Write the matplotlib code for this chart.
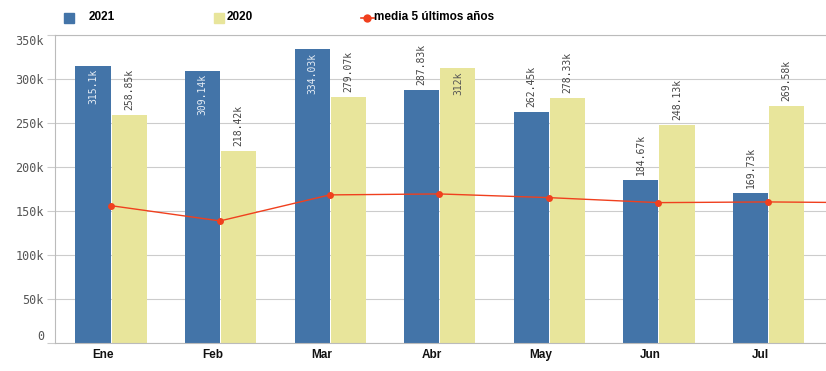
import matplotlib
matplotlib.use("Agg")
import matplotlib.pyplot as plt
from matplotlib.patches import Rectangle
from matplotlib.lines import Line2D
import numpy as np

# data
months = ["Ene", "Feb", "Mar", "Abr", "May", "Jun", "Jul"]
v2021 = [315.1, 309.14, 334.03, 287.83, 262.45, 184.67, 169.73]
v2020 = [258.85, 218.42, 279.07, 312.0, 278.33, 248.13, 269.58]
# 5-year mean, last point (Ago) falls outside the visible area
media = [155.8, 138.4, 168.0, 169.1, 164.9, 159.2, 160.0, 159.0]

c2021 = "#4374a8"
c2020 = "#e8e59b"
cline = "#f0401e"
mono = "DejaVu Sans Mono"
narrow = ["Liberation Sans Narrow", "Liberation Sans", "DejaVu Sans"]

fig = plt.figure(figsize=(8.26, 3.71), dpi=100)
ax = fig.add_axes([55 / 826, 1 - 342.5 / 371, 1 - 55 / 826, (342.5 - 35) / 371])

x = np.arange(len(months))
w = 0.32
ax.bar(x - w, np.array(v2021) * 1000, width=w, align="edge", color=c2021, linewidth=0, zorder=2)
ax.bar(x + 0.01, np.array(v2020) * 1000, width=w, align="edge", color=c2020, linewidth=0, zorder=2)

xm = np.arange(len(media))
ax.plot(xm, np.array(media) * 1000, color=cline, lw=1, marker="o", ms=5,
        markerfacecolor=cline, markeredgewidth=0, zorder=3, clip_on=True)

# value labels
def label(xc, val, inside_color):
    y = val * 1000
    txt = "%gk" % val
    if val > 300:
        ax.annotate(txt, (xc, y), xytext=(0, -2.5), textcoords="offset points",
                    rotation=90, ha="center", va="top", fontsize=7,
                    family=mono, color=inside_color, zorder=4)
    else:
        ax.annotate(txt, (xc, y), xytext=(0, 3.6), textcoords="offset points",
                    rotation=90, ha="center", va="bottom", fontsize=7,
                    family=mono, color="#444444", zorder=4)

for i in range(len(months)):
    label(x[i] - w / 2, v2021[i], "#e6edf5")
    label(x[i] + 0.01 + w / 2, v2020[i], "#555555")

ax.set_xlim(-0.507, 6.53)
ax.set_ylim(0, 350000)
yt = np.arange(0, 350001, 50000)
ax.set_yticks(yt)
ax.set_yticklabels(["0"] + ["%dk" % (t // 1000) for t in yt[1:]],
                   family=mono, fontsize=8.5, color="#555555")
ax.tick_params(axis="y", length=6, color="#cccccc", pad=2)
ax.set_xticks(x - 0.07)
ax.set_xticklabels(months, family=narrow, fontsize=8.5, fontweight="bold", color="#111111")
ax.tick_params(axis="x", length=0, pad=5)
ax.get_yticklabels()[0].set_va("bottom")
ax.get_yticklabels()[-1].set_va("top")

ax.grid(axis="y", color="#cccccc", lw=0.8, zorder=0)
for s in ["left", "bottom", "top"]:
    ax.spines[s].set_color("#bbbbbb")
    ax.spines[s].set_linewidth(0.8)
ax.spines["right"].set_visible(False)

# legend drawn by hand at the top
def fx(px):
    return px / 826

def fy(py):
    return 1 - py / 371

fig.add_artist(Rectangle((fx(64), fy(23)), fx(10), 10 / 371, color=c2021, transform=fig.transFigure))
fig.text(fx(89), fy(17.5), "2021", family=narrow, fontsize=8.5, fontweight="bold", va="center")
fig.add_artist(Rectangle((fx(214), fy(23)), fx(10), 10 / 371, color=c2020, transform=fig.transFigure))
fig.text(fx(227), fy(17.5), "2020", family=narrow, fontsize=8.5, fontweight="bold", va="center")
fig.add_artist(Line2D([fx(361), fx(374)], [fy(18), fy(18)], color=cline, lw=1.2,
                      transform=fig.transFigure))
fig.add_artist(Line2D([fx(367)], [fy(18)], marker="o", ms=6, color=cline,
                      markeredgewidth=0, transform=fig.transFigure))
fig.text(fx(374), fy(17.5), "media 5 últimos años", family=narrow, fontsize=8.5,
         fontweight="bold", va="center")

fig.savefig("out.png", dpi=100)
